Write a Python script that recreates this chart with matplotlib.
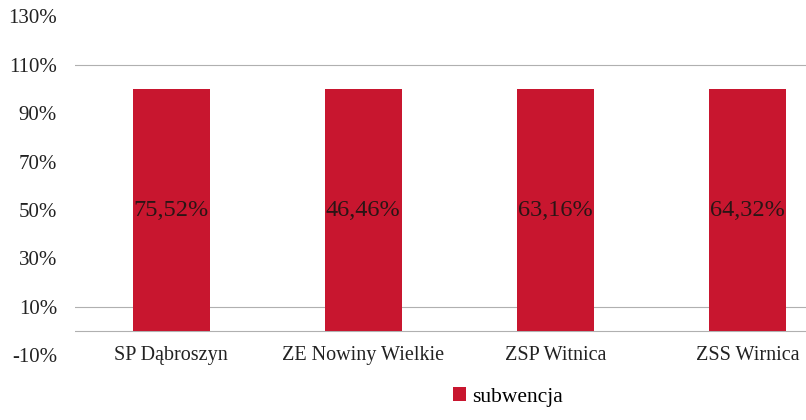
import matplotlib
matplotlib.use("Agg")
import matplotlib.pyplot as plt
from matplotlib.ticker import FuncFormatter

categories = ["SP Dąbroszyn", "ZE Nowiny Wielkie", "ZSP Witnica", "ZSS Wirnica"]
bar_values = [100, 100, 100, 100]
label_texts = ["75,52%", "46,46%", "63,16%", "64,32%"]
series_name = "subwencja"
yticks = [-10, 10, 30, 50, 70, 90, 110, 130]
grid_levels = [0, 10, 110]

plt.rcParams['font.family'] = ['Liberation Serif', 'DejaVu Serif']

W, H = 806, 420
fig = plt.figure(figsize=(W / 100, H / 100), dpi=100)
left = 75 / W
right = 844 / W
bottom = (H - 355.2) / H
top = (H - 16.4) / H
ax = fig.add_axes([left, bottom, right - left, top - bottom])

x = list(range(len(categories)))
bars = ax.bar(x, bar_values, width=0.40, color='#C8162F', zorder=3, label=series_name)

for gl in grid_levels:
    ax.axhline(gl, color='#b0b0b0', lw=0.8, zorder=1)

for xi, v, t in zip(x, bar_values, label_texts):
    ax.text(xi, v / 2, t, ha='center', va='center', fontsize=17.5, color='#2a1515', zorder=4)

ax.set_xlim(-0.5, 3.5)
ax.set_ylim(-10, 130)
ax.set_yticks(yticks)
ax.yaxis.set_major_formatter(FuncFormatter(lambda v, p: f"{int(v)}%"))
ax.set_xticks(x)
ax.set_xticklabels(categories, va='center')
ax.tick_params(axis='x', length=0, pad=0, labelsize=14.5, colors='#222222')
ax.tick_params(axis='y', length=0, pad=13, labelsize=15, colors='#222222')
for s in ax.spines.values():
    s.set_visible(False)

fig.legend(handles=[bars], labels=[series_name], loc='center',
           bbox_to_anchor=(508 / W, 1 - 397 / H), frameon=False,
           fontsize=15.5, handlelength=0.6, handleheight=0.6, handletextpad=0.3)

fig.savefig("out.png", dpi=100)
